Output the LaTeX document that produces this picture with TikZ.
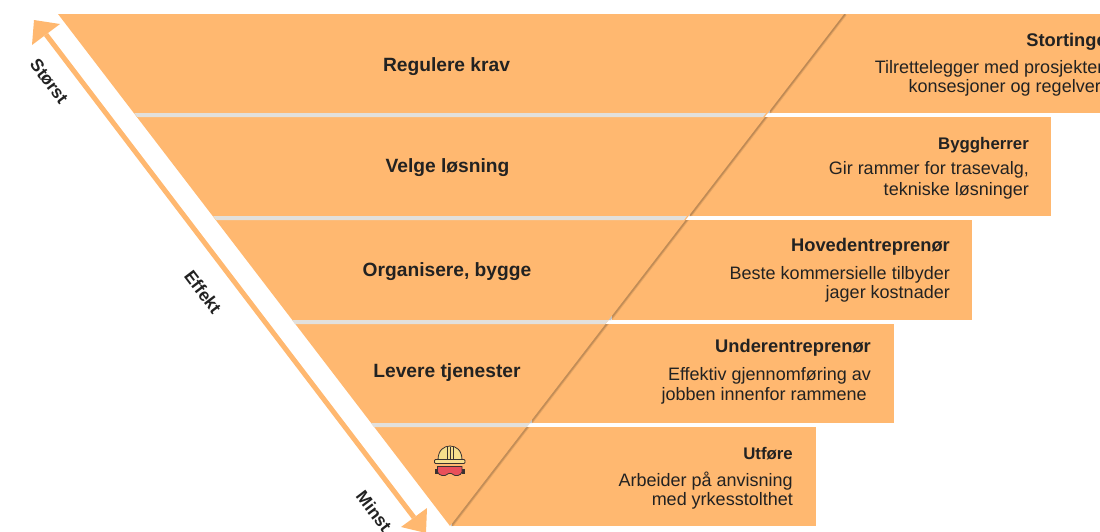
\documentclass[tikz,border=0pt]{standalone}
\usepackage{fontspec}
\setmainfont{Liberation Sans}
\definecolor{band}{HTML}{FFB870}
\definecolor{sep}{HTML}{E2E0DC}
\definecolor{ink}{HTML}{222222}
\definecolor{shade}{HTML}{C98A4A}
\definecolor{helm}{HTML}{F6DE8C}
\definecolor{gogg}{HTML}{E9505A}
\definecolor{iconl}{HTML}{3A3230}
\tikzset{
  bandbox/.style={fill=band,draw=none},
  head/.style={font=\fontsize{19.2}{22}\selectfont\bfseries,text=ink,inner sep=0pt},
  rtitle/.style={font=\fontsize{18.3}{20}\selectfont\bfseries,text=ink,inner sep=0pt,anchor=base east},
  rtitlesmall/.style={font=\fontsize{16.8}{20}\selectfont\bfseries,text=ink,inner sep=0pt,anchor=base east},
  rbody/.style={font=\fontsize{18}{21}\selectfont,text=ink,inner sep=0pt,anchor=base east,align=right},
  axislabel/.style={font=\fontsize{17.5}{18}\selectfont\bfseries,text=ink,inner sep=0pt,rotate=-52.7},
}
\begin{document}
\begin{tikzpicture}[x=1pt,y=-1pt]
\useasboundingbox (0,0) rectangle (1100,531);
\clip (0,0) rectangle (1100,531);
% right-hand bands
\fill[bandbox] (770,14) rectangle (1110,113);
\fill[bandbox] (690,117) rectangle (1051,216);
\fill[bandbox] (612,220) rectangle (972,320);
\fill[bandbox] (532,324) rectangle (894,423);
\fill[bandbox] (452,427) rectangle (816,526);
% soft shadow along the triangle's right edge
\begin{scope}
\clip (760,14) rectangle (1110,113) (680,117) rectangle (1051,216) (600,220) rectangle (972,320) (520,324) rectangle (894,423) (451,427) rectangle (816,526);
\draw[shade,line width=4pt,opacity=.1] (845,14) -- (451,526);
\draw[shade,line width=2pt,opacity=.15] (845,14) -- (451,526);
\end{scope}
% triangle
\fill[band] (58,14) -- (844,14) -- (450,526) -- cycle;
% separators in the triangle
\fill[sep] (134.2,113) -- (766,113) -- (763,117) -- (137.3,117) -- cycle;
\fill[sep] (213.1,216) -- (687,216) -- (684,220) -- (216.2,220) -- cycle;
\fill[sep] (292,320) -- (608.5,320) -- (605.4,324) -- (295,324) -- cycle;
\fill[sep] (370.8,423) -- (530,423) -- (527,427) -- (373.9,427) -- cycle;
% axis arrow
\coordinate (tipA) at (34,20);
\coordinate (tipB) at (426,533);
\coordinate (baseA) at (46,34.5);
\coordinate (baseB) at (414,517.5);
\draw[band,line width=5pt] (baseA) -- (baseB);
\fill[band] (tipA) -- (60,24) -- (32,45) -- cycle;
\fill[band] (tipB) -- (427,508) -- (401,527) -- cycle;
\node[axislabel] (big) at (49,81.5) {Størst};
\node[axislabel] (eff) at (203,292) {Effekt};
\node[axislabel] (small) at (374,511) {Minst};
% left headings
\node[head] (h1) at (446.5,67) {Regulere krav};
\node[head] (h2) at (447.5,168) {Velge løsning};
\node[head] (h3) at (447,272) {Organisere, bygge};
\node[head] (h4) at (447,373) {Levere tjenester};
% right texts
\node[rtitle] (t1) at (1113,46) {Stortinget};
\node[rbody] (b1a) at (1107.5,73) {Tilrettelegger med prosjekter,};
\node[rbody] (b1b) at (1110,92) {konsesjoner og regelverk};
\node[rtitlesmall] (t2) at (1029,149) {Byggherrer};
\node[rbody] (b2a) at (1029,174) {Gir rammer for trasevalg,};
\node[rbody] (b2b) at (1029,195) {tekniske løsninger};
\node[rtitle] (t3) at (950,251) {Hovedentreprenør};
\node[rbody] (b3a) at (950,279) {Beste kommersielle tilbyder};
\node[rbody] (b3b) at (950,298) {jager kostnader};
\node[rtitle] (t4) at (871,352) {Underentreprenør};
\node[rbody] (b4a) at (871,380) {Effektiv gjennomføring av};
\node[rbody] (b4b) at (867,400) {jobben innenfor rammene};
\node[rtitlesmall] (t5) at (793,459) {Utføre};
\node[rbody] (b5a) at (793,486) {Arbeider på anvisning};
\node[rbody] (b5b) at (793,505) {med yrkesstolthet};
% helmet and goggles
\begin{scope}[line width=.8pt,draw=iconl]
\fill[helm,draw=iconl] (438,460) .. controls (438,450) and (444,446) .. (450,446) .. controls (456,446) and (462,450) .. (462,460) -- cycle;
\fill[helm,draw=iconl,rounded corners=1pt] (434.5,459.5) rectangle (465,463.5);
\draw (447,447) -- (447,459) (453,447) -- (453,459) (450,446.5) -- (450,459);
\fill[iconl] (434.5,468.5) rectangle (438,474);
\fill[iconl] (461.5,468.5) rectangle (465,474);
\fill[gogg,draw=iconl] (437.5,466.5) -- (462,466.5) -- (462,472) .. controls (461,476) and (455,476.5) .. (453,474.5) .. controls (452,473) and (448,473) .. (447,474.5) .. controls (445,476.5) and (439,476) .. (437.5,472) -- cycle;
\end{scope}
\end{tikzpicture}
\end{document}
